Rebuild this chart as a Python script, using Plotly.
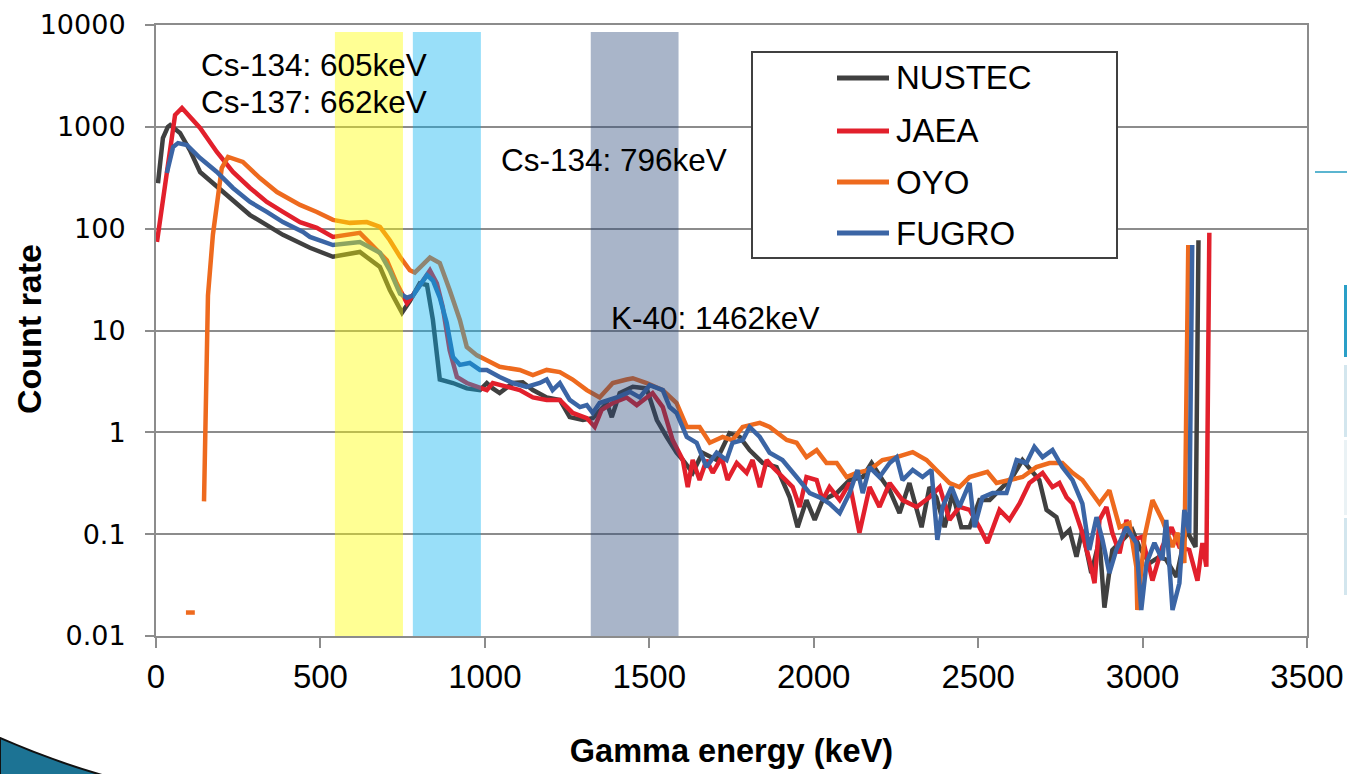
import plotly.graph_objects as go

# (energy keV, count rate) pairs for each survey team
NUSTEC = [
    (6, 280), (21, 775), (36, 1000), (43, 1040), (73, 870), (103, 590), (134, 360),
    (216, 214), (286, 136), (386, 87), (468, 65), (538, 53), (620, 59), (681, 42),
    (711, 25), (748, 15), (772, 19.5), (802, 29), (824, 28), (842, 12.7), (863, 3.3),
    (903, 3.05), (945, 2.7), (985, 2.6), (1006, 3.05), (1024, 2.7), (1045, 2.43),
    (1085, 3.05), (1115, 3.1), (1146, 2.6), (1188, 2.2), (1228, 2.08), (1258, 1.41),
    (1298, 1.32), (1328, 1.38), (1371, 1.94), (1386, 1.41), (1410, 2.43), (1450, 2.8),
    (1492, 2.7), (1523, 1.32), (1553, 0.9), (1583, 0.63), (1602, 0.535), (1632, 0.40),
    (1662, 0.63), (1705, 0.535), (1744, 0.98), (1775, 0.9), (1805, 0.67), (1845, 0.5),
    (1887, 0.456), (1927, 0.23), (1951, 0.117), (1978, 0.216), (2003, 0.138),
    (2027, 0.216), (2070, 0.253), (2109, 0.34), (2149, 0.364), (2176, 0.5), (2209, 0.34),
    (2231, 0.27), (2261, 0.161), (2291, 0.318), (2328, 0.117), (2352, 0.29), (2373, 0.23),
    (2398, 0.117), (2422, 0.253), (2449, 0.117), (2474, 0.117), (2504, 0.216),
    (2535, 0.216), (2565, 0.27), (2604, 0.364), (2635, 0.535), (2665, 0.40), (2686, 0.34),
    (2708, 0.173), (2738, 0.147), (2756, 0.094), (2778, 0.11), (2799, 0.06), (2817, 0.11),
    (2844, 0.0415), (2869, 0.088), (2884, 0.019), (2908, 0.07), (2939, 0.088),
    (2969, 0.11), (2990, 0.075), (3021, 0.052), (3051, 0.06), (3072, 0.056),
    (3103, 0.038), (3133, 0.11), (3161, 0.075), (3170, 77),
]

JAEA = [
    (3, 74), (58, 1306), (79, 1530), (134, 975), (185, 566), (234, 360), (286, 251),
    (337, 183), (386, 146), (438, 116), (489, 102), (538, 83), (620, 91), (672, 62),
    (702, 49), (732, 29), (763, 18.6), (781, 22), (833, 39), (854, 29), (872, 17),
    (893, 6.4), (915, 3.5), (945, 3.05), (976, 2.8), (1006, 2.6), (1024, 3.05),
    (1067, 2.8), (1106, 2.6), (1146, 2.2), (1188, 2.08), (1228, 2.08), (1267, 1.55),
    (1310, 1.38), (1334, 1.13), (1355, 1.66), (1389, 1.94), (1431, 2.2), (1462, 1.85),
    (1510, 2.43), (1541, 1.77), (1571, 0.84), (1602, 0.535), (1617, 0.29), (1632, 0.535),
    (1653, 0.34), (1674, 0.535), (1693, 0.40), (1720, 0.57), (1738, 0.34), (1766, 0.50),
    (1796, 0.40), (1814, 0.535), (1836, 0.29), (1857, 0.535), (1875, 0.456),
    (1905, 0.364), (1936, 0.29), (1957, 0.185), (1978, 0.364), (2009, 0.34),
    (2027, 0.216), (2048, 0.29), (2079, 0.216), (2109, 0.318), (2139, 0.103),
    (2170, 0.29), (2200, 0.185), (2231, 0.318), (2270, 0.216), (2313, 0.185),
    (2352, 0.23), (2383, 0.29), (2413, 0.138), (2443, 0.185), (2474, 0.173),
    (2504, 0.117), (2528, 0.082), (2565, 0.173), (2595, 0.138), (2626, 0.20),
    (2656, 0.318), (2696, 0.40), (2726, 0.29), (2747, 0.318), (2769, 0.23), (2787, 0.20),
    (2814, 0.11), (2838, 0.056), (2854, 0.033), (2869, 0.138), (2890, 0.185),
    (2908, 0.103), (2930, 0.065), (2951, 0.138), (2969, 0.088), (2999, 0.094),
    (3030, 0.035), (3060, 0.075), (3088, 0.117), (3112, 0.075), (3142, 0.07),
    (3167, 0.035), (3182, 0.082), (3194, 0.048), (3203, 91),
]

# zero-count channel at 132 keV leaves a gap in the OYO spectrum
OYO = [
    (91, 0.017), (118, 0.017), (132, None), (146, 0.21), (158, 22), (173, 87),
    (185, 171), (200, 394), (219, 506), (264, 452), (316, 314), (368, 229), (438, 171),
    (489, 146), (538, 122), (590, 114), (641, 116), (681, 104), (711, 77), (742, 53),
    (772, 39), (787, 37), (833, 52), (863, 46), (893, 25), (924, 12.7), (945, 6.9),
    (976, 5.7), (1006, 5.1), (1045, 4.4), (1106, 4.1), (1146, 3.65), (1188, 4.1),
    (1228, 3.9), (1267, 3.3), (1310, 2.6), (1349, 2.2), (1389, 3.05), (1431, 3.3),
    (1450, 3.4), (1492, 3.05), (1541, 2.6), (1583, 1.94), (1614, 1.13), (1653, 1.13),
    (1684, 0.79), (1723, 0.90), (1753, 0.84), (1784, 1.13), (1836, 1.24), (1866, 1.13),
    (1918, 0.84), (1948, 0.79), (1978, 0.57), (2009, 0.67), (2039, 0.50), (2070, 0.50),
    (2100, 0.364), (2130, 0.40), (2170, 0.427), (2209, 0.535), (2252, 0.57),
    (2301, 0.64), (2343, 0.535), (2373, 0.427), (2413, 0.318), (2443, 0.29),
    (2474, 0.364), (2528, 0.41), (2556, 0.318), (2595, 0.34), (2635, 0.364),
    (2677, 0.456), (2717, 0.50), (2756, 0.50), (2787, 0.40), (2817, 0.34), (2848, 0.253),
    (2869, 0.20), (2899, 0.27), (2930, 0.117), (2960, 0.129), (2981, 0.048),
    (2984, 0.018), (3006, 0.094), (3030, 0.216), (3060, 0.138), (3091, 0.075),
    (3106, 0.103), (3127, 0.052), (3139, 69),
]

FUGRO = [
    (33, 352), (52, 634), (67, 693), (94, 664), (134, 494), (185, 360), (234, 251),
    (286, 183), (337, 146), (386, 116), (447, 93), (468, 83), (538, 69), (620, 74),
    (681, 58), (711, 39), (742, 23), (763, 21), (781, 22), (824, 35), (842, 31),
    (863, 21), (884, 11.9), (903, 5.5), (924, 4.6), (954, 4.8), (985, 4.1), (1006, 4.1),
    (1045, 3.5), (1085, 3.05), (1127, 2.8), (1167, 3.05), (1188, 3.3), (1206, 2.6),
    (1228, 3.05), (1258, 2.08), (1289, 1.77), (1310, 1.85), (1328, 1.55), (1349, 1.94),
    (1401, 2.2), (1441, 2.5), (1471, 2.2), (1501, 2.9), (1541, 2.6), (1562, 1.77),
    (1583, 1.55), (1614, 0.90), (1644, 0.79), (1674, 0.456), (1705, 0.63), (1735, 0.535),
    (1753, 0.79), (1784, 0.84), (1805, 1.13), (1836, 0.90), (1866, 0.63), (1905, 0.535),
    (1948, 0.364), (1988, 0.253), (2018, 0.23), (2048, 0.20), (2079, 0.161),
    (2109, 0.253), (2133, 0.427), (2149, 0.253), (2170, 0.456), (2200, 0.364),
    (2231, 0.50), (2252, 0.57), (2270, 0.34), (2301, 0.427), (2331, 0.364),
    (2358, 0.427), (2376, 0.088), (2392, 0.185), (2419, 0.29), (2443, 0.185),
    (2474, 0.318), (2489, 0.117), (2513, 0.23), (2544, 0.253), (2586, 0.253),
    (2617, 0.535), (2647, 0.50), (2671, 0.72), (2696, 0.57), (2726, 0.67), (2756, 0.456),
    (2787, 0.34), (2817, 0.20), (2838, 0.07), (2860, 0.147), (2878, 0.088),
    (2899, 0.0415), (2920, 0.07), (2951, 0.117), (2981, 0.082), (2996, 0.018),
    (3012, 0.052), (3036, 0.082), (3060, 0.056), (3072, 0.138), (3091, 0.018),
    (3112, 0.033), (3127, 0.173), (3142, 0.103), (3151, 69),
]

SERIES = [("NUSTEC", NUSTEC), ("JAEA", JAEA), ("OYO", OYO), ("FUGRO", FUGRO)]
COLORS = {"NUSTEC": "#404040", "JAEA": "#e2202c", "OYO": "#ee6a1e", "FUGRO": "#3b65a5"}

# highlighted photopeak windows (keV)
BANDS = [
    (544, 751, "rgba(255,255,0,0.42)"),
    (781, 988, "rgba(0,176,240,0.40)"),
    (1322, 1589, "rgba(40,70,120,0.40)"),
]

# peak labels: text, left edge and vertical centre in plot-area fractions
PEAK_LABELS = [
    ("Cs-134: 605keV", 0.037, 0.935),
    ("Cs-137: 662keV", 0.037, 0.874),
    ("Cs-134: 796keV", 0.298, 0.779),
    ("K-40: 1462keV", 0.394, 0.521),
]

X_TICKS = [0, 500, 1000, 1500, 2000, 2500, 3000, 3500]
Y_TICKS = [0.01, 0.1, 1, 10, 100, 1000, 10000]
Y_TICK_TEXT = ["0.01", "0.1", "1", "10", "100", "1000", "10000"]

GRID = "#8c8c8c"
W, H = 1347, 774
L, R, T, B = 156, 40, 25, 138
PW, PH = W - L - R, H - T - B


def px_x(px):
    return (px - L) / PW


def px_y(py):
    return (H - B - py) / PH


fig = go.Figure()
for name, pts in SERIES:
    fig.add_trace(go.Scatter(
        x=[p[0] for p in pts], y=[p[1] for p in pts], name=name, mode="lines",
        line=dict(color=COLORS[name], width=4.5), connectgaps=False, showlegend=False,
    ))

shapes = []
for x0, x1, col in BANDS:
    shapes.append(dict(type="rect", xref="x", yref="paper", x0=x0, x1=x1, y0=0, y1=0.9885,
                       fillcolor=col, line=dict(width=0), layer="above"))

# legend box with line samples
shapes.append(dict(type="rect", xref="paper", yref="paper",
                   x0=px_x(752), x1=px_x(1117), y0=px_y(258), y1=px_y(52),
                   fillcolor="white", line=dict(color="#404040", width=2), layer="above"))
annotations = []
row_y = [78, 131, 182, 233]
for (name, _), ry in zip(SERIES, row_y):
    shapes.append(dict(type="line", xref="paper", yref="paper",
                       x0=px_x(837), x1=px_x(889), y0=px_y(ry), y1=px_y(ry),
                       line=dict(color=COLORS[name], width=5), layer="above"))
    annotations.append(dict(text=name, xref="paper", yref="paper", x=px_x(894), y=px_y(ry),
                            xanchor="left", yanchor="middle", showarrow=False,
                            font=dict(family="Liberation Sans", size=33, color="black")))

for text, ax, ay in PEAK_LABELS:
    annotations.append(dict(text=text, xref="paper", yref="paper", x=ax, y=ay,
                            xanchor="left", yanchor="middle", showarrow=False,
                            font=dict(family="Liberation Sans", size=31.5, color="black")))

# y-axis title placed beside the tick labels
annotations.append(dict(text="<b>Count rate</b>", xref="paper", yref="paper",
                        x=px_x(29), y=px_y(329), xanchor="center", yanchor="middle",
                        textangle=-90, showarrow=False,
                        font=dict(family="Liberation Sans", size=34, color="black")))

# slide ornaments around the chart
shapes += [
    dict(type="line", xref="paper", yref="paper", x0=px_x(1315), x1=px_x(1348),
         y0=px_y(172), y1=px_y(172), line=dict(color="#5bb5d0", width=2)),
    dict(type="rect", xref="paper", yref="paper", x0=px_x(1344), x1=px_x(1348),
         y0=px_y(357), y1=px_y(285), fillcolor="#2a9fc7", line=dict(width=0)),
    dict(type="rect", xref="paper", yref="paper", x0=px_x(1344), x1=px_x(1348),
         y0=px_y(437), y1=px_y(365), fillcolor="#d3e6ee", line=dict(width=0)),
    dict(type="rect", xref="paper", yref="paper", x0=px_x(1344), x1=px_x(1348),
         y0=px_y(515), y1=px_y(440), fillcolor="#eaf2f5", line=dict(width=0)),
    dict(type="rect", xref="paper", yref="paper", x0=px_x(1344), x1=px_x(1348),
         y0=px_y(595), y1=px_y(518), fillcolor="#d3e6ee", line=dict(width=0)),
    dict(type="path", xref="paper", yref="paper",
         path=(f"M {px_x(0)},{px_y(738)} Q {px_x(50)},{px_y(760)} {px_x(102)},{px_y(775)} "
               f"L {px_x(0)},{px_y(775)} Z"),
         fillcolor="#1c7394", line=dict(color="#111111", width=2)),
]

fig.update_layout(
    width=W, height=H, margin=dict(l=L, r=R, t=T, b=B, autoexpand=False),
    paper_bgcolor="white", plot_bgcolor="white",
    shapes=shapes, annotations=annotations, showlegend=False,
    xaxis=dict(
        range=[0, 3500], tickvals=X_TICKS, ticks="outside", ticklen=10, tickwidth=2,
        tickcolor=GRID, showline=True, linecolor=GRID, linewidth=2, mirror=True,
        showgrid=False, zeroline=False, automargin=False,
        tickfont=dict(family="Liberation Sans", size=33, color="black"),
        title=dict(text="<b>Gamma energy (keV)</b>", standoff=46,
                   font=dict(family="Liberation Sans", size=32.5, color="black")),
    ),
    yaxis=dict(
        type="log", range=[-2, 4], tickvals=Y_TICKS, ticktext=Y_TICK_TEXT,
        ticks="outside", ticklen=9, tickwidth=2, tickcolor=GRID,
        showline=True, linecolor=GRID, linewidth=2, mirror=True,
        showgrid=True, gridcolor=GRID, gridwidth=2, zeroline=False, automargin=False,
        ticklabelstandoff=14,
        tickfont=dict(family="DejaVu Sans", size=27, color="black"),
    ),
)

fig.write_html("out.html")
